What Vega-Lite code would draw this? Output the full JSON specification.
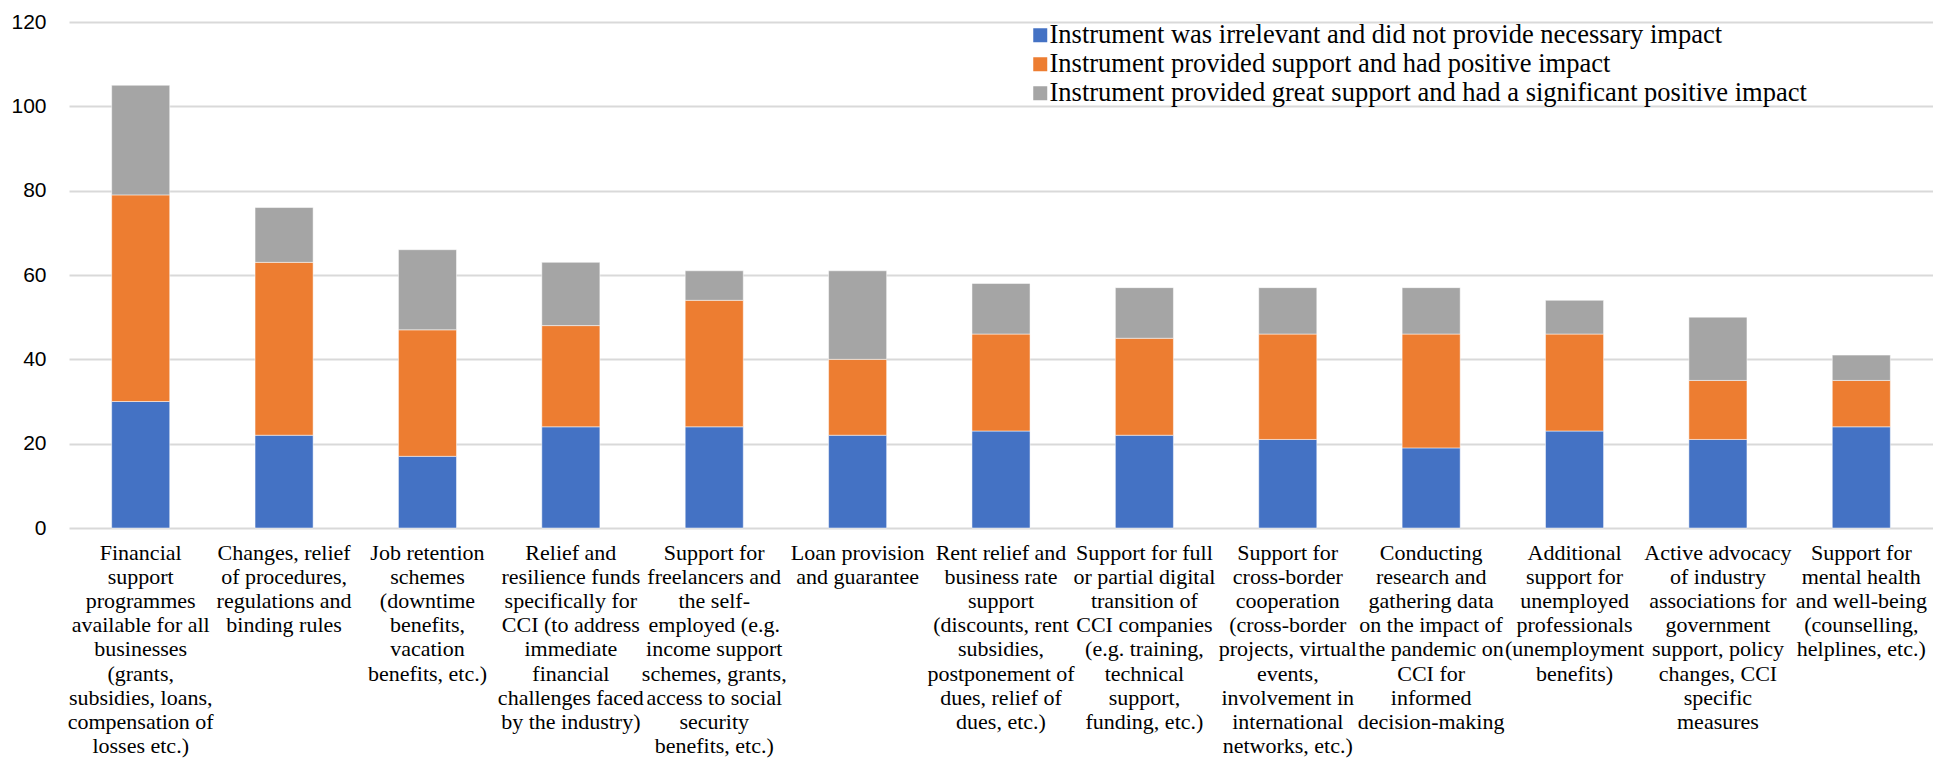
{
  "$schema": "https://vega.github.io/schema/vega-lite/v6.json",
  "width": 1864,
  "height": 506,
  "autosize": {"type": "none"},
  "padding": {"left": 69, "top": 22, "right": 0, "bottom": 232},
  "background": "white",
  "config": {"view": {"stroke": null}},
  "data": {"values": [
    {"cat": "Financial\nsupport\nprogrammes\navailable for all\nbusinesses\n(grants,\nsubsidies, loans,\ncompensation of\nlosses etc.)", "s": "Instrument was irrelevant and did not provide necessary impact", "v": 30},
    {"cat": "Financial\nsupport\nprogrammes\navailable for all\nbusinesses\n(grants,\nsubsidies, loans,\ncompensation of\nlosses etc.)", "s": "Instrument provided support and had positive impact", "v": 49},
    {"cat": "Financial\nsupport\nprogrammes\navailable for all\nbusinesses\n(grants,\nsubsidies, loans,\ncompensation of\nlosses etc.)", "s": "Instrument provided great support and had a significant positive impact", "v": 26},
    {"cat": "Changes, relief\nof procedures,\nregulations and\nbinding rules", "s": "Instrument was irrelevant and did not provide necessary impact", "v": 22},
    {"cat": "Changes, relief\nof procedures,\nregulations and\nbinding rules", "s": "Instrument provided support and had positive impact", "v": 41},
    {"cat": "Changes, relief\nof procedures,\nregulations and\nbinding rules", "s": "Instrument provided great support and had a significant positive impact", "v": 13},
    {"cat": "Job retention\nschemes\n(downtime\nbenefits,\nvacation\nbenefits, etc.)", "s": "Instrument was irrelevant and did not provide necessary impact", "v": 17},
    {"cat": "Job retention\nschemes\n(downtime\nbenefits,\nvacation\nbenefits, etc.)", "s": "Instrument provided support and had positive impact", "v": 30},
    {"cat": "Job retention\nschemes\n(downtime\nbenefits,\nvacation\nbenefits, etc.)", "s": "Instrument provided great support and had a significant positive impact", "v": 19},
    {"cat": "Relief and\nresilience funds\nspecifically for\nCCI (to address\nimmediate\nfinancial\nchallenges faced\nby the industry)", "s": "Instrument was irrelevant and did not provide necessary impact", "v": 24},
    {"cat": "Relief and\nresilience funds\nspecifically for\nCCI (to address\nimmediate\nfinancial\nchallenges faced\nby the industry)", "s": "Instrument provided support and had positive impact", "v": 24},
    {"cat": "Relief and\nresilience funds\nspecifically for\nCCI (to address\nimmediate\nfinancial\nchallenges faced\nby the industry)", "s": "Instrument provided great support and had a significant positive impact", "v": 15},
    {"cat": "Support for\nfreelancers and\nthe self-\nemployed (e.g.\nincome support\nschemes, grants,\naccess to social\nsecurity\nbenefits, etc.)", "s": "Instrument was irrelevant and did not provide necessary impact", "v": 24},
    {"cat": "Support for\nfreelancers and\nthe self-\nemployed (e.g.\nincome support\nschemes, grants,\naccess to social\nsecurity\nbenefits, etc.)", "s": "Instrument provided support and had positive impact", "v": 30},
    {"cat": "Support for\nfreelancers and\nthe self-\nemployed (e.g.\nincome support\nschemes, grants,\naccess to social\nsecurity\nbenefits, etc.)", "s": "Instrument provided great support and had a significant positive impact", "v": 7},
    {"cat": "Loan provision\nand guarantee", "s": "Instrument was irrelevant and did not provide necessary impact", "v": 22},
    {"cat": "Loan provision\nand guarantee", "s": "Instrument provided support and had positive impact", "v": 18},
    {"cat": "Loan provision\nand guarantee", "s": "Instrument provided great support and had a significant positive impact", "v": 21},
    {"cat": "Rent relief and\nbusiness rate\nsupport\n(discounts, rent\nsubsidies,\npostponement of\ndues, relief of\ndues, etc.)", "s": "Instrument was irrelevant and did not provide necessary impact", "v": 23},
    {"cat": "Rent relief and\nbusiness rate\nsupport\n(discounts, rent\nsubsidies,\npostponement of\ndues, relief of\ndues, etc.)", "s": "Instrument provided support and had positive impact", "v": 23},
    {"cat": "Rent relief and\nbusiness rate\nsupport\n(discounts, rent\nsubsidies,\npostponement of\ndues, relief of\ndues, etc.)", "s": "Instrument provided great support and had a significant positive impact", "v": 12},
    {"cat": "Support for full\nor partial digital\ntransition of\nCCI companies\n(e.g. training,\ntechnical\nsupport,\nfunding, etc.)", "s": "Instrument was irrelevant and did not provide necessary impact", "v": 22},
    {"cat": "Support for full\nor partial digital\ntransition of\nCCI companies\n(e.g. training,\ntechnical\nsupport,\nfunding, etc.)", "s": "Instrument provided support and had positive impact", "v": 23},
    {"cat": "Support for full\nor partial digital\ntransition of\nCCI companies\n(e.g. training,\ntechnical\nsupport,\nfunding, etc.)", "s": "Instrument provided great support and had a significant positive impact", "v": 12},
    {"cat": "Support for\ncross-border\ncooperation\n(cross-border\nprojects, virtual\nevents,\ninvolvement in\ninternational\nnetworks, etc.)", "s": "Instrument was irrelevant and did not provide necessary impact", "v": 21},
    {"cat": "Support for\ncross-border\ncooperation\n(cross-border\nprojects, virtual\nevents,\ninvolvement in\ninternational\nnetworks, etc.)", "s": "Instrument provided support and had positive impact", "v": 25},
    {"cat": "Support for\ncross-border\ncooperation\n(cross-border\nprojects, virtual\nevents,\ninvolvement in\ninternational\nnetworks, etc.)", "s": "Instrument provided great support and had a significant positive impact", "v": 11},
    {"cat": "Conducting\nresearch and\ngathering data\non the impact of\nthe pandemic on\nCCI for\ninformed\ndecision-making", "s": "Instrument was irrelevant and did not provide necessary impact", "v": 19},
    {"cat": "Conducting\nresearch and\ngathering data\non the impact of\nthe pandemic on\nCCI for\ninformed\ndecision-making", "s": "Instrument provided support and had positive impact", "v": 27},
    {"cat": "Conducting\nresearch and\ngathering data\non the impact of\nthe pandemic on\nCCI for\ninformed\ndecision-making", "s": "Instrument provided great support and had a significant positive impact", "v": 11},
    {"cat": "Additional\nsupport for\nunemployed\nprofessionals\n(unemployment\nbenefits)", "s": "Instrument was irrelevant and did not provide necessary impact", "v": 23},
    {"cat": "Additional\nsupport for\nunemployed\nprofessionals\n(unemployment\nbenefits)", "s": "Instrument provided support and had positive impact", "v": 23},
    {"cat": "Additional\nsupport for\nunemployed\nprofessionals\n(unemployment\nbenefits)", "s": "Instrument provided great support and had a significant positive impact", "v": 8},
    {"cat": "Active advocacy\nof industry\nassociations for\ngovernment\nsupport, policy\nchanges, CCI\nspecific\nmeasures", "s": "Instrument was irrelevant and did not provide necessary impact", "v": 21},
    {"cat": "Active advocacy\nof industry\nassociations for\ngovernment\nsupport, policy\nchanges, CCI\nspecific\nmeasures", "s": "Instrument provided support and had positive impact", "v": 14},
    {"cat": "Active advocacy\nof industry\nassociations for\ngovernment\nsupport, policy\nchanges, CCI\nspecific\nmeasures", "s": "Instrument provided great support and had a significant positive impact", "v": 15},
    {"cat": "Support for\nmental health\nand well-being\n(counselling,\nhelplines, etc.)", "s": "Instrument was irrelevant and did not provide necessary impact", "v": 24},
    {"cat": "Support for\nmental health\nand well-being\n(counselling,\nhelplines, etc.)", "s": "Instrument provided support and had positive impact", "v": 11},
    {"cat": "Support for\nmental health\nand well-being\n(counselling,\nhelplines, etc.)", "s": "Instrument provided great support and had a significant positive impact", "v": 6}
  ]},
  "mark": {"type": "bar", "stroke": "white", "strokeWidth": 0.5},
  "encoding": {
    "x": {
      "field": "cat", "type": "nominal", "sort": null,
      "scale": {"paddingInner": 0.595, "paddingOuter": 0.2975},
      "axis": {
        "title": null, "labelAngle": 0, "domain": false, "ticks": false,
        "labelExpr": "split(datum.label, '\\n')",
        "labelFont": "Liberation Serif", "labelFontSize": 22, "labelLineHeight": 24.2,
        "labelColor": "black", "labelPadding": 14, "labelLimit": 0,
        "labelOverlap": false
      }
    },
    "y": {
      "field": "v", "type": "quantitative", "aggregate": "sum",
      "scale": {"domain": [0, 120]},
      "axis": {
        "title": null, "values": [0, 20, 40, 60, 80, 100, 120],
        "domain": false, "ticks": false, "labelPadding": 23,
        "labelFont": "Liberation Sans", "labelFontSize": 21, "labelColor": "black",
        "gridColor": "#d9d9d9", "gridWidth": 2
      }
    },
    "color": {
      "field": "s", "type": "nominal",
      "sort": ["Instrument was irrelevant and did not provide necessary impact", "Instrument provided support and had positive impact", "Instrument provided great support and had a significant positive impact"],
      "scale": {
        "domain": ["Instrument was irrelevant and did not provide necessary impact", "Instrument provided support and had positive impact", "Instrument provided great support and had a significant positive impact"],
        "range": ["#4472c4", "#ed7d31", "#a5a5a5"]
      },
      "legend": {
        "title": null, "orient": "none", "legendX": 958, "legendY": 0,
        "padding": 0, "symbolType": "square", "symbolSize": 196, "symbolStrokeWidth": 0,
        "symbolOpacity": 1,
        "labelFont": "Liberation Serif", "labelFontSize": 26.5, "labelColor": "black",
        "labelLimit": 0, "labelOffset": -4, "rowPadding": 2
      }
    },
    "order": {"field": "s", "sort": "descending"}
  }
}
